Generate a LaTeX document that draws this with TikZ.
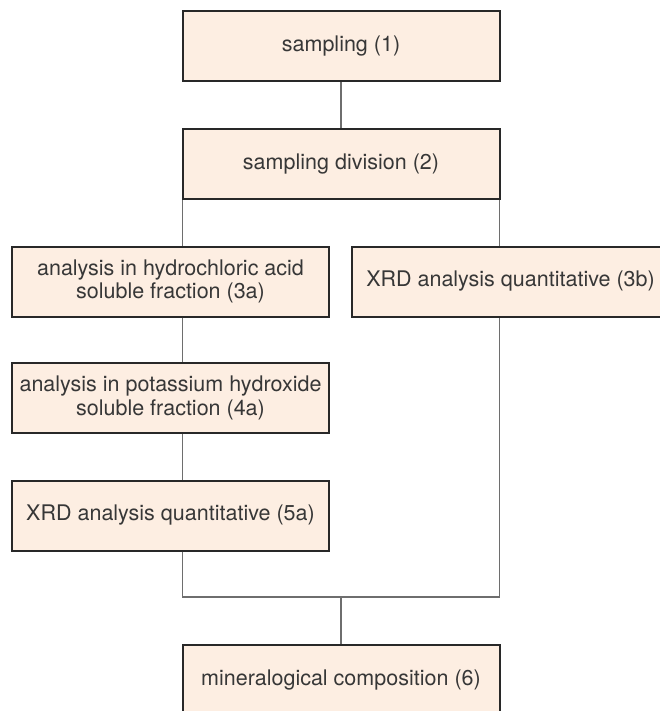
\documentclass[tikz,border=0pt]{standalone}
\usepackage{fontspec}
\setmainfont{TeX Gyre Heros}
\definecolor{boxfill}{RGB}{253,238,226}
\definecolor{boxline}{RGB}{40,40,40}
\definecolor{conncol}{RGB}{110,110,110}
\definecolor{txtcol}{RGB}{55,55,55}
\tikzset{
  stepbox/.style={draw=boxline, fill=boxfill, line width=2pt,
    minimum width=317pt, minimum height=70pt, inner sep=0pt,
    align=center, text=txtcol,
    font=\fontsize{21.5}{23.5}\selectfont},
  conn/.style={draw=conncol, line width=1.1pt}
}
\begin{document}
\begin{tikzpicture}[x=1pt, y=-1pt]
\useasboundingbox (0,0) rectangle (660,711);

\node[stepbox] (b1)  at (341,46.5)  {sampling (1)};
\node[stepbox] (b2)  at (341,164)   {sampling division (2)};
\node[stepbox] (b3a) at (170.5,281.5) {analysis in hydrochloric acid\\soluble fraction (3a)};
\node[stepbox] (b3b) at (510.5,281.5) {XRD analysis quantitative (3b)};
\node[stepbox] (b4a) at (170.5,398)   {analysis in potassium hydroxide\\soluble fraction (4a)};
\node[stepbox] (b5a) at (170.5,515.5) {XRD analysis quantitative (5a)};
\node[stepbox] (b6)  at (341,680)   {mineralogical composition (6)};

\coordinate (jn) at (341,597);

% main spine
\draw[conn] (b1.south) -- (b2.north);
% left branch
\draw[conn] (b2.south west) ++(1,0) coordinate (lt) -- (lt |- b3a.north);
\draw[conn] (lt |- b3a.south) -- (lt |- b4a.north);
\draw[conn] (lt |- b4a.south) -- (lt |- b5a.north);
% right branch
\draw[conn] (b2.south east) ++(-1,0) coordinate (rt) -- (rt |- b3b.north);
% merge
\draw[conn] (lt |- b5a.south) -- (lt |- jn) -- (rt |- jn) -- (rt |- b3b.south);
\draw[conn] (jn) -- (b6.north);
\end{tikzpicture}
\end{document}
